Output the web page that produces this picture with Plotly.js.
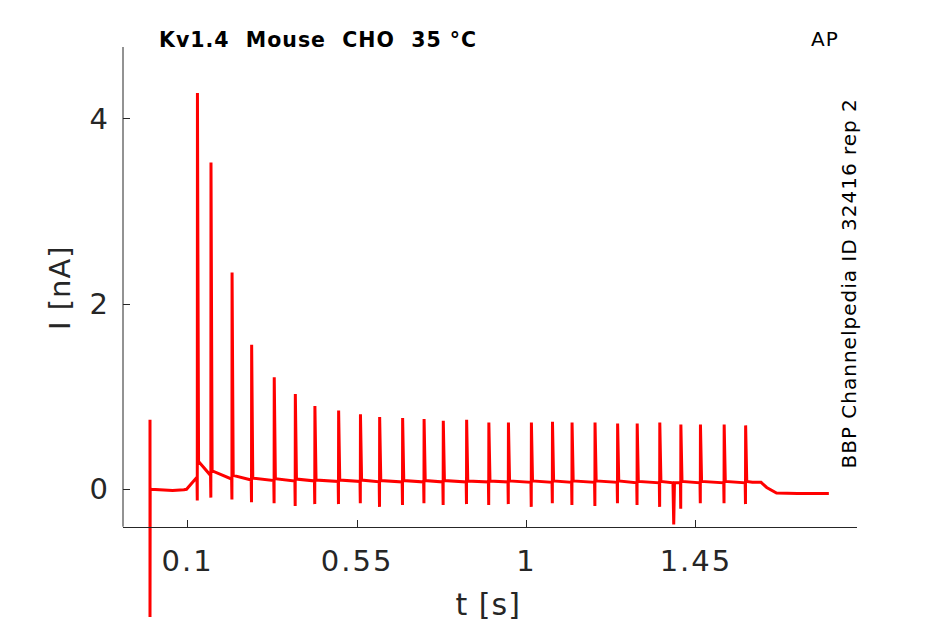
<!DOCTYPE html>
<html>
<head>
<meta charset="utf-8">
<script src="https://cdn.plot.ly/plotly-3.0.1.min.js"></script>
<style>
  html, body { margin: 0; padding: 0; background: #fff; }
  #plot { width: 945px; height: 624px; }
  /* the original renderer spaces its glyphs a bit wider */
  #plot .annotation-text { letter-spacing: 1px; }
  #plot .xtick text { letter-spacing: 2px; }
</style>
</head>
<body>
<div id="plot"></div>
<script>
// AP-clamp response, values
const spikeT = [0.126, 0.162, 0.218, 0.270, 0.330, 0.386, 0.438, 0.501, 0.559, 0.610,
  0.671, 0.728, 0.779, 0.841, 0.900, 0.952, 1.013, 1.069, 1.121, 1.182,
  1.242, 1.294, 1.354, 1.410, 1.462, 1.525, 1.582];
const spikePeak = [4.28, 3.53, 2.34, 1.56, 1.21, 1.03, 0.90, 0.85, 0.81, 0.78,
  0.77, 0.76, 0.74, 0.75, 0.72, 0.72, 0.72, 0.73, 0.72, 0.72,
  0.71, 0.71, 0.72, 0.70, 0.70, 0.70, 0.69];
const spikeDip = [-0.12, -0.09, -0.11, -0.14, -0.15, -0.18, -0.16, -0.16, -0.15, -0.19,
  -0.17, -0.15, -0.17, -0.16, -0.17, -0.16, -0.19, -0.15, -0.17, -0.18,
  -0.15, -0.17, -0.19, -0.21, -0.15, -0.15, -0.16];
const spikeBase = [0.13, 0.15, 0.11, 0.10, 0.095, 0.09, 0.09, 0.085, 0.085, 0.08,
  0.08, 0.08, 0.08, 0.08, 0.08, 0.08, 0.075, 0.075, 0.075, 0.075,
  0.075, 0.07, 0.07, 0.07, 0.07, 0.07, 0.07];
const spikeTail = [0.30, 0.20, 0.15, 0.12, 0.115, 0.11, 0.10, 0.10, 0.10, 0.095,
  0.095, 0.095, 0.095, 0.09, 0.09, 0.09, 0.09, 0.09, 0.09, 0.09,
  0.09, 0.085, 0.085, 0.085, 0.085, 0.085, 0.085];

// stretches of trace that are not spikes
const leadT = [0, 0, 0.0005, 0.003, 0.03, 0.06, 0.09, 0.097, 0.112];
const leadI = [0.75, -1.38, 0.01, 0.0, -0.005, -0.012, -0.005, 0.0, 0.07];
const extraT = [1.389, 1.391, 1.393];
const extraI = [0.07, -0.38, 0.07];
const endT = [1.600, 1.623, 1.638, 1.664, 1.72, 1.803];
const endI = [0.075, 0.075, 0.02, -0.04, -0.045, -0.045];

const xTicks = [0.1, 0.55, 1, 1.45];
const xTickText = ['0.1', '0.55', '1', '1.45'];
const yTicks = [0, 2, 4];

// assemble the polyline (stable sort keeps the order within a spike)
const pts = [];
leadT.forEach((t, i) => pts.push([t, leadI[i]]));
spikeT.forEach((t, i) => {
  pts.push([t - 0.0012, spikeBase[i]]);
  pts.push([t - 0.0004, spikeDip[i]]);
  pts.push([t, spikePeak[i]]);
  pts.push([t + 0.003, spikeTail[i]]);
});
extraT.forEach((t, i) => pts.push([t, extraI[i]]));
endT.forEach((t, i) => pts.push([t, endI[i]]));
pts.sort((a, b) => a[0] - b[0]);

const trace = {
  x: pts.map(p => p[0]),
  y: pts.map(p => p[1]),
  mode: 'lines',
  type: 'scatter',
  line: { color: 'rgb(255, 0, 0)', width: 3 },
  hoverinfo: 'skip',
};

const ink = '#262626';
const font = 'DejaVu Sans, sans-serif';

const layout = {
  width: 945,
  height: 624,
  paper_bgcolor: '#fff',
  plot_bgcolor: 'rgba(0,0,0,0)',
  showlegend: false,
  margin: { l: 123, r: 88, t: 47, b: 2 },
  font: { family: font, color: ink },
  xaxis: {
    range: [-0.0717, 1.8778],
    anchor: 'free',
    position: 0.1657,
    tickvals: xTicks,
    ticktext: xTickText,
    ticks: 'inside',
    ticklen: 7,
    tickcolor: ink,
    showline: true,
    linecolor: ink,
    linewidth: 1,
    showgrid: false,
    zeroline: false,
    tickfont: { size: 29, color: ink },
    ticklabelstandoff: 8,
  },
  yaxis: {
    range: [-1.433, 4.776],
    tickvals: yTicks,
    ticks: 'inside',
    ticklen: 7,
    tickcolor: ink,
    showline: false,
    showgrid: false,
    zeroline: false,
    tickfont: { size: 29, color: ink },
    ticklabelstandoff: 14,
  },
  shapes: [{
    type: 'line', xref: 'paper', yref: 'y',
    x0: 0, x1: 0, y0: -0.404, y1: 4.776,
    line: { color: ink, width: 1 },
  }],
  annotations: [
    {
      text: '<b>Kv1.4\u00a0\u00a0Mouse\u00a0\u00a0CHO\u00a0\u00a035\u00a0°C</b>',
      xref: 'paper', yref: 'paper', x: (318 - 123) / 734, y: (622 - 40) / 575,
      showarrow: false, font: { size: 20.5, color: '#000' },
      xanchor: 'center', yanchor: 'middle',
    },
    {
      text: 'AP',
      xref: 'paper', yref: 'paper', x: (825 - 123) / 734, y: (622 - 39) / 575,
      showarrow: false, font: { size: 20, color: '#000' },
      xanchor: 'center', yanchor: 'middle',
    },
    {
      text: 'BBP Channelpedia ID 32416 rep 2',
      xref: 'paper', yref: 'paper', x: (849 - 123) / 734, y: (622 - 284) / 575,
      showarrow: false, textangle: -90, font: { size: 20, color: '#000' },
      xanchor: 'center', yanchor: 'middle',
    },
    {
      text: 't [s]',
      xref: 'paper', yref: 'paper', x: (488 - 123) / 734, y: (622 - 604) / 575,
      showarrow: false, font: { size: 30, color: ink },
      xanchor: 'center', yanchor: 'middle',
    },
    {
      text: 'I [nA]',
      xref: 'paper', yref: 'paper', x: (60 - 123) / 734, y: (622 - 288) / 575,
      showarrow: false, textangle: -90, font: { size: 29, color: ink },
      xanchor: 'center', yanchor: 'middle',
    },
  ],
};

const config = { staticPlot: true, displayModeBar: false };

Plotly.newPlot('plot', [trace], layout, config);
</script>
</body>
</html>
